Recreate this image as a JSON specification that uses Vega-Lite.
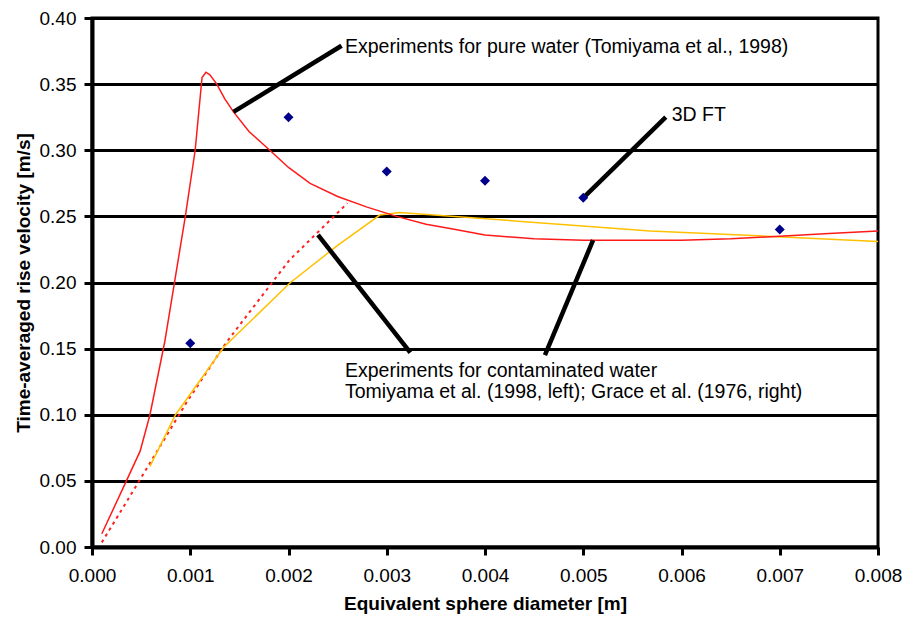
{
  "$schema": "https://vega.github.io/schema/vega-lite/v6.json",
  "autosize": {"type": "none"},
  "width": 786,
  "height": 529,
  "padding": {"left": 92, "top": 18, "right": 26, "bottom": 76},
  "background": "white",
  "config": {
    "view": {"stroke": "black", "strokeWidth": 3},
    "font": "Liberation Sans",
    "axis": {
      "domainColor": "black", "domainWidth": 4,
      "tickColor": "black", "tickWidth": 3, "tickSize": 8,
      "labelFont": "Liberation Sans", "labelFontSize": 19, "labelColor": "black",
      "labelFlush": false, "labelOverlap": false,
      "titleFont": "Liberation Sans", "titleFontSize": 19, "titleFontWeight": "bold", "titleColor": "black"
    }
  },
  "datasets": {
    "curves": [
      {"series": "pure", "d": 0.0001, "v": 0.010},
      {"series": "pure", "d": 0.00035, "v": 0.05},
      {"series": "pure", "d": 0.00049, "v": 0.0725},
      {"series": "pure", "d": 0.00059, "v": 0.10},
      {"series": "pure", "d": 0.00074, "v": 0.155},
      {"series": "pure", "d": 0.00095, "v": 0.25},
      {"series": "pure", "d": 0.00105, "v": 0.30},
      {"series": "pure", "d": 0.00112, "v": 0.355},
      {"series": "pure", "d": 0.00116, "v": 0.359},
      {"series": "pure", "d": 0.00120, "v": 0.357},
      {"series": "pure", "d": 0.00127, "v": 0.350},
      {"series": "pure", "d": 0.00135, "v": 0.339},
      {"series": "pure", "d": 0.00144, "v": 0.329},
      {"series": "pure", "d": 0.0016, "v": 0.314},
      {"series": "pure", "d": 0.00181, "v": 0.300},
      {"series": "pure", "d": 0.0020, "v": 0.287},
      {"series": "pure", "d": 0.00222, "v": 0.275},
      {"series": "pure", "d": 0.0025, "v": 0.265},
      {"series": "pure", "d": 0.0028, "v": 0.257},
      {"series": "pure", "d": 0.0031, "v": 0.250},
      {"series": "pure", "d": 0.0034, "v": 0.244},
      {"series": "pure", "d": 0.0037, "v": 0.240},
      {"series": "pure", "d": 0.0040, "v": 0.236},
      {"series": "pure", "d": 0.0045, "v": 0.233},
      {"series": "pure", "d": 0.0050, "v": 0.232},
      {"series": "pure", "d": 0.0055, "v": 0.232},
      {"series": "pure", "d": 0.0060, "v": 0.232},
      {"series": "pure", "d": 0.0065, "v": 0.233},
      {"series": "pure", "d": 0.0070, "v": 0.235},
      {"series": "pure", "d": 0.0075, "v": 0.237},
      {"series": "pure", "d": 0.0080, "v": 0.239},
      {"series": "grace", "d": 0.00059, "v": 0.061},
      {"series": "grace", "d": 0.00085, "v": 0.10},
      {"series": "grace", "d": 0.00134, "v": 0.151},
      {"series": "grace", "d": 0.00202, "v": 0.20},
      {"series": "grace", "d": 0.0025, "v": 0.228},
      {"series": "grace", "d": 0.00293, "v": 0.251},
      {"series": "grace", "d": 0.00313, "v": 0.253},
      {"series": "grace", "d": 0.00568, "v": 0.239},
      {"series": "grace", "d": 0.00687, "v": 0.235},
      {"series": "grace", "d": 0.0080, "v": 0.231},
      {"series": "tomi", "d": 0.0001, "v": 0.0035},
      {"series": "tomi", "d": 0.00044, "v": 0.045},
      {"series": "tomi", "d": 0.00096, "v": 0.109},
      {"series": "tomi", "d": 0.00137, "v": 0.155},
      {"series": "tomi", "d": 0.00201, "v": 0.217},
      {"series": "tomi", "d": 0.0026, "v": 0.26}
    ],
    "points": [
      {"d": 0.001, "v": 0.154},
      {"d": 0.002, "v": 0.325},
      {"d": 0.003, "v": 0.284},
      {"d": 0.004, "v": 0.277},
      {"d": 0.005, "v": 0.264},
      {"d": 0.007, "v": 0.240}
    ],
    "pointers": [
      {"d": 0.00144, "v": 0.329, "d2": 0.00254, "v2": 0.379},
      {"d": 0.00500, "v": 0.264, "d2": 0.00584, "v2": 0.325},
      {"d": 0.00230, "v": 0.236, "d2": 0.00324, "v2": 0.147},
      {"d": 0.00510, "v": 0.232, "d2": 0.00461, "v2": 0.145}
    ],
    "labels": [
      {"d": 0.002575, "v": 0.378, "text": "Experiments for pure water (Tomiyama et al., 1998)"},
      {"d": 0.0059, "v": 0.3265, "text": "3D FT"},
      {"d": 0.002575, "v": 0.1328, "text": "Experiments for contaminated water"},
      {"d": 0.002575, "v": 0.1169, "text": "Tomiyama et al. (1998, left); Grace et al. (1976, right)"}
    ]
  },
  "layer": [
    {
      "data": {"name": "curves"},
      "transform": [{"filter": "datum.series === 'tomi'"}],
      "mark": {"type": "line", "color": "#FF2020", "strokeWidth": 2, "strokeDash": [3, 4]},
      "encoding": {
        "x": {"field": "d", "type": "quantitative",
              "scale": {"domain": [0, 0.008], "nice": false},
              "axis": {"values": [0, 0.001, 0.002, 0.003, 0.004, 0.005, 0.006, 0.007, 0.008], "format": ".3f", "grid": false, "labelPadding": 11, "title": "Equivalent sphere diameter [m]", "titlePadding": 9}},
        "y": {"field": "v", "type": "quantitative",
              "scale": {"domain": [0, 0.4], "nice": false},
              "axis": {"values": [0, 0.05, 0.1, 0.15, 0.2, 0.25, 0.3, 0.35, 0.4], "format": ".2f", "grid": true, "gridColor": "black", "gridWidth": 3, "gridOpacity": 1, "labelPadding": 8, "title": "Time-averaged rise velocity [m/s]", "titlePadding": 6}}
      }
    },
    {
      "data": {"name": "curves"},
      "transform": [{"filter": "datum.series === 'grace'"}],
      "mark": {"type": "line", "color": "#FFC000", "strokeWidth": 1.5},
      "encoding": {
        "x": {"field": "d", "type": "quantitative"},
        "y": {"field": "v", "type": "quantitative"}
      }
    },
    {
      "data": {"name": "curves"},
      "transform": [{"filter": "datum.series === 'pure'"}],
      "mark": {"type": "line", "color": "#FF1A1A", "strokeWidth": 1.5},
      "encoding": {
        "x": {"field": "d", "type": "quantitative"},
        "y": {"field": "v", "type": "quantitative"}
      }
    },
    {
      "data": {"name": "pointers"},
      "mark": {"type": "rule", "color": "black", "strokeWidth": 4.5},
      "encoding": {
        "x": {"field": "d", "type": "quantitative"},
        "y": {"field": "v", "type": "quantitative"},
        "x2": {"field": "d2"},
        "y2": {"field": "v2"}
      }
    },
    {
      "data": {"name": "points"},
      "mark": {"type": "point", "shape": "diamond", "filled": true, "color": "#00008B", "size": 100, "opacity": 1},
      "encoding": {
        "x": {"field": "d", "type": "quantitative"},
        "y": {"field": "v", "type": "quantitative"}
      }
    },
    {
      "data": {"name": "labels"},
      "mark": {"type": "text", "align": "left", "baseline": "middle", "fontSize": 19.5, "color": "black", "font": "Liberation Sans"},
      "encoding": {
        "x": {"field": "d", "type": "quantitative"},
        "y": {"field": "v", "type": "quantitative"},
        "text": {"field": "text"}
      }
    }
  ]
}
